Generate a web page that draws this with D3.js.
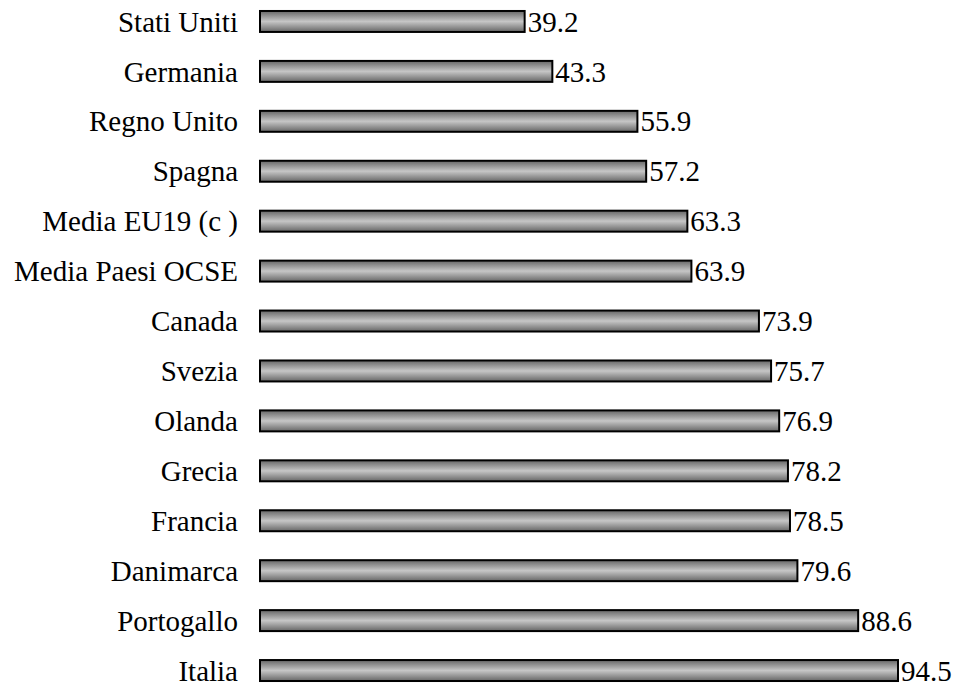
<!DOCTYPE html>
<html>
<head>
<meta charset="utf-8">
<script src="https://cdn.jsdelivr.net/npm/d3@7"></script>
<style>
html,body{margin:0;padding:0;background:#fff;}
svg{display:block;}
</style>
</head>
<body>
<script>
const categories = ["Stati Uniti","Germania","Regno Unito","Spagna","Media EU19 (c )","Media Paesi OCSE","Canada","Svezia","Olanda","Grecia","Francia","Danimarca","Portogallo","Italia"];
const values = [39.2,43.3,55.9,57.2,63.3,63.9,73.9,75.7,76.9,78.2,78.5,79.6,88.6,94.5];
const valueLabels = ["39.2","43.3","55.9","57.2","63.3","63.9","73.9","75.7","76.9","78.2","78.5","79.6","88.6","94.5"];

const W = 954, H = 686;
const svg = d3.select("body").append("svg").attr("width", W).attr("height", H);

const defs = svg.append("defs");
const grad = defs.append("linearGradient").attr("id","barGrad").attr("x1","0").attr("y1","0").attr("x2","0").attr("y2","1");
grad.append("stop").attr("offset","0%").attr("stop-color","#666666");
grad.append("stop").attr("offset","50%").attr("stop-color","#c6c6c6");
grad.append("stop").attr("offset","100%").attr("stop-color","#666666");

const x = d3.scaleLinear().domain([0, 94.5]).range([260, 898]);
const y = d3.scaleBand().domain(categories).range([-3.5, 695.5]).paddingInner(0.58).paddingOuter(0.29);

const font = "'Liberation Serif','Times New Roman',Times,serif";
const g = svg.append("g");
const rows = g.selectAll("g.row").data(categories).enter().append("g").attr("class","row");

rows.append("rect")
  .attr("x", x(0))
  .attr("y", d => y(d))
  .attr("width", (d,i) => x(values[i]) - x(0))
  .attr("height", y.bandwidth())
  .attr("fill","url(#barGrad)")
  .attr("stroke","#000")
  .attr("stroke-width",2);

rows.append("text")
  .attr("x", 238)
  .attr("y", d => y(d) + y.bandwidth()/2)
  .attr("dy","0.35em")
  .attr("text-anchor","end")
  .attr("font-family",font)
  .attr("font-size",29)
  .attr("fill","#000")
  .text(d => d);

rows.append("text")
  .attr("x", (d,i) => x(values[i]) + 3)
  .attr("y", d => y(d) + y.bandwidth()/2)
  .attr("dy","0.35em")
  .attr("font-family",font)
  .attr("font-size",29)
  .attr("fill","#000")
  .text((d,i) => valueLabels[i]);
</script>
</body>
</html>
